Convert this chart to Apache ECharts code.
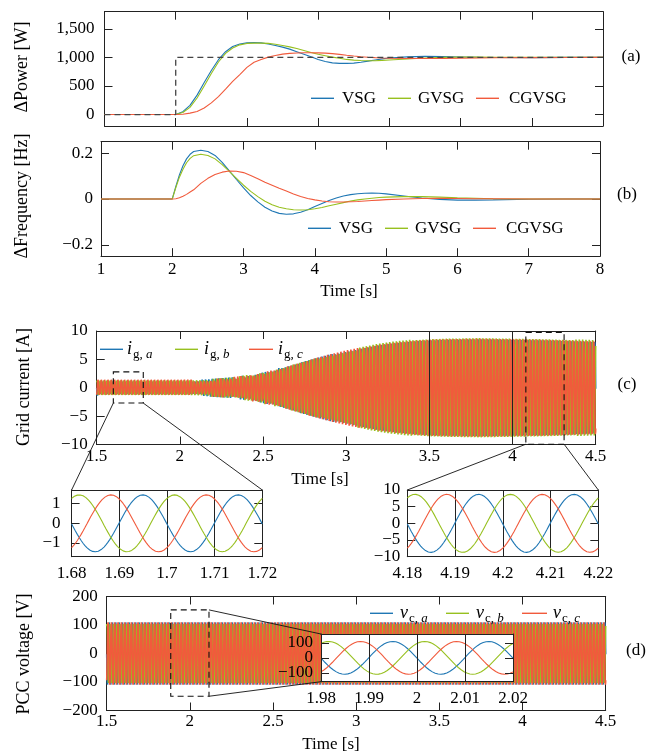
<!DOCTYPE html>
<html><head><meta charset="utf-8">
<script src="https://cdn.jsdelivr.net/npm/echarts@6/dist/echarts.min.js"></script>
<style>html,body{margin:0;padding:0;background:#fff}#c{width:655px;height:754px}</style>
</head><body><div id="c"></div>
<script>
// ===== values =====
// (a) power step response
const powerTime  = [1, 2, 2.1, 2.2, 2.3, 2.4, 2.5, 2.6, 2.7, 2.8, 2.9, 3.0, 3.1, 3.2, 3.3, 3.4, 3.5, 3.6, 3.7, 3.8, 3.9, 4.0, 4.1, 4.2, 4.3, 4.4, 4.5, 4.6, 4.7, 4.8, 4.9, 5.0, 5.25, 5.5, 5.75, 6.0, 6.25, 6.5, 7.0, 7.5, 8.0];
const powerVSG   = [0, 0, 50, 160, 340, 560, 770, 960, 1100, 1190, 1235, 1255, 1260, 1255, 1235, 1210, 1180, 1145, 1100, 1055, 1010, 965, 930, 905, 895, 895, 900, 915, 935, 955, 975, 990, 1010, 1018, 1015, 1008, 1002, 998, 997, 1000, 1000];
const powerGVSG  = [0, 0, 35, 125, 290, 500, 720, 920, 1070, 1165, 1220, 1245, 1250, 1250, 1245, 1230, 1210, 1185, 1155, 1120, 1085, 1055, 1030, 1005, 985, 965, 952, 945, 942, 943, 948, 955, 972, 990, 1000, 1005, 1005, 1003, 1000, 1000, 1000];
const powerCGVSG = [0, 0, 5, 25, 55, 115, 205, 315, 445, 580, 700, 825, 915, 965, 1005, 1035, 1058, 1070, 1078, 1082, 1082, 1080, 1075, 1066, 1054, 1038, 1025, 1013, 1003, 996, 990, 986, 981, 980, 982, 986, 990, 993, 997, 999, 1000];
const powerRefTime = [1, 2, 2, 8];
const powerRef     = [0, 0, 1000, 1000];
// (b) frequency deviation
const freqTime   = [1, 2, 2.05, 2.1, 2.15, 2.2, 2.25, 2.3, 2.4, 2.5, 2.6, 2.7, 2.8, 2.9, 3.0, 3.1, 3.2, 3.3, 3.4, 3.5, 3.6, 3.7, 3.8, 3.9, 4.0, 4.1, 4.2, 4.3, 4.4, 4.5, 4.6, 4.7, 4.8, 4.9, 5.0, 5.25, 5.5, 5.75, 6.0, 6.25, 6.5, 7.0, 7.5, 8.0];
const freqVSG    = [0, 0, 0.055, 0.105, 0.145, 0.175, 0.195, 0.207, 0.213, 0.207, 0.19, 0.16, 0.123, 0.085, 0.048, 0.015, -0.013, -0.036, -0.053, -0.063, -0.067, -0.065, -0.058, -0.047, -0.033, -0.02, -0.007, 0.004, 0.013, 0.019, 0.023, 0.025, 0.026, 0.025, 0.022, 0.013, 0.004, -0.002, -0.005, -0.005, -0.004, -0.001, 0, 0];
const freqGVSG   = [0, 0, 0.05, 0.095, 0.13, 0.158, 0.177, 0.189, 0.195, 0.19, 0.175, 0.15, 0.12, 0.09, 0.06, 0.033, 0.01, -0.01, -0.025, -0.036, -0.043, -0.047, -0.048, -0.047, -0.043, -0.037, -0.03, -0.023, -0.016, -0.009, -0.004, 0.0, 0.003, 0.006, 0.008, 0.01, 0.01, 0.008, 0.005, 0.003, 0.001, 0, 0, 0];
const freqCGVSG  = [0, 0, 0.001, 0.005, 0.012, 0.02, 0.03, 0.04, 0.068, 0.09, 0.107, 0.117, 0.122, 0.121, 0.115, 0.102, 0.088, 0.073, 0.06, 0.047, 0.035, 0.022, 0.011, 0.002, -0.004, -0.009, -0.012, -0.013, -0.013, -0.012, -0.011, -0.009, -0.007, -0.005, -0.003, 0, 0.002, 0.003, 0.002, 0.001, 0.001, 0, 0, 0];
// (c) grid current: envelope (peak amplitude) read at these times
const currentEnvTime = [1.5, 2.0, 2.15, 2.3, 2.4, 2.5, 2.6, 2.7, 2.8, 2.9, 3.0, 3.1, 3.2, 3.3, 3.4, 3.5, 3.6, 3.8, 4.0, 4.2, 4.4, 4.5];
const currentEnvAmp  = [1.45, 1.45, 1.5, 1.8, 2.2, 2.8, 3.5, 4.3, 5.1, 5.9, 6.6, 7.2, 7.8, 8.2, 8.5, 8.7, 8.8, 8.9, 8.8, 8.7, 8.5, 8.4];
// (d) PCC voltage envelope
const voltageEnvTime = [1.5, 4.5];
const voltageEnvAmp  = [110, 110];
// three-phase waveform parameters
const gridFreq   = 50;        // Hz
const phaseBPeak = 1.6816;    // a peak of phase b (s)
const phaseLag   = {a: 2 / 3, b: 0, c: 1 / 3}; // lag in periods
// tick labels
const powerTicks   = [0, 500, 1000, 1500];
const freqTicks    = [-0.2, 0, 0.2];
const curInsTicks  = [-1, 0, 1];
const curInsTicksR = [-10, -5, 0, 5, 10];
const voltInsTicks = [-100, 0, 100];
const currentGridLinesAt = [3.5, 4];
// zoom boxes (data coordinates)
const zoomBoxC1 = {x: [1.6, 1.78], y: [-2.7, 2.8]};
const zoomBoxC2 = {x: [4.08, 4.31], y: [-9.95, 9.75]};
const zoomBoxD  = {x: [1.885, 2.115], y: [-150, 153]};

// ===== styling =====
const FONT = '"Liberation Serif", "Times New Roman", serif';
const BLUE = '#1f77b4', GREEN = '#97c01f', RED = '#f15a3c', AX = '#222';

function zip(t, v) { return t.map((x, i) => [x, v[i]]); }
function interp(xs, ys, x) {
  if (x <= xs[0]) return ys[0];
  for (let i = 1; i < xs.length; i++) if (x <= xs[i]) {
    const f = (x - xs[i - 1]) / (xs[i] - xs[i - 1]); return ys[i - 1] + f * (ys[i] - ys[i - 1]);
  }
  return ys[ys.length - 1];
}
function phase(t0, t1, step, envT, envA, lag) {
  const out = [], n = Math.round((t1 - t0) / step), T = 1 / gridFreq;
  for (let k = 0; k <= n; k++) {
    const t = t0 + k * step;
    out.push([t, interp(envT, envA, t) * Math.cos(2 * Math.PI * gridFreq * (t - phaseBPeak - lag * T))]);
  }
  return out;
}
const minus = s => String(s).replace('-', '\u2212');

function xPair(g, o) {
  const mk = (pos) => {
    const a = {type: 'value', gridIndex: g, position: pos, min: o.min, max: o.max, z: o.z || 0,
      axisLine: {show: true, onZero: false, lineStyle: {color: AX, width: 1}},
      axisTick: {show: true, inside: true, length: 8, lineStyle: {color: AX, width: 1}},
      axisLabel: {show: pos === 'bottom' && !!o.labels, margin: o.margin || 6, color: '#000', fontFamily: FONT, fontSize: 17,
        formatter: o.fmt, showMinLabel: true, showMaxLabel: true, interval: 0, hideOverlap: false},
      splitLine: {show: pos === 'bottom' && !!o.grid, lineStyle: {color: AX, width: 1}},
      axisPointer: {show: false}};
    if (o.interval != null) a.interval = o.interval;
    if (o.custom) { a.axisTick.customValues = o.custom; a.axisLabel.customValues = o.custom; }
    return a;
  };
  return [mk('bottom'), mk('top')];
}
function yPair(g, o) {
  const mk = (pos) => {
    const a = {type: 'value', gridIndex: g, position: pos, min: o.min, max: o.max, z: o.z || 0,
      axisLine: {show: true, onZero: false, lineStyle: {color: AX, width: 1}},
      axisTick: {show: true, inside: true, length: 8, lineStyle: {color: AX, width: 1}},
      axisLabel: {show: pos === 'left' && !o.manual, margin: o.margin || 9, color: '#000', fontFamily: FONT, fontSize: 17,
        formatter: o.fmt, showMinLabel: true, showMaxLabel: true, interval: 0, hideOverlap: false},
      splitLine: {show: false}, axisPointer: {show: false}};
    if (o.interval != null) a.interval = o.interval;
    if (o.custom) { a.axisTick.customValues = o.custom; a.axisLabel.customValues = o.custom; }
    return a;
  };
  return [mk('left'), mk('right')];
}
const fmt2 = v => String(+(+v).toFixed(2));

const grids = [
  {left: 104.5, top: 11.7, width: 498.5, height: 114.3},   // a
  {left: 101, top: 141.7, width: 499, height: 114.5},      // b
  {left: 96.7, top: 331, width: 499, height: 113.5},       // c
  {left: 71.6, top: 490, width: 190.7, height: 66.7},      // c inset left
  {left: 407.3, top: 490, width: 191, height: 66.7},       // c inset right
  {left: 106.7, top: 596.5, width: 499, height: 114},      // d
  {left: 321, top: 634, width: 192, height: 47.7, show: true, backgroundColor: '#fff', borderWidth: 0, z: 10} // d inset
];

const xAxes = [].concat(
  xPair(0, {min: 1, max: 8, interval: 1}),
  xPair(1, {min: 1, max: 8, interval: 1, labels: true, margin: 5}),
  xPair(2, {min: 1.5, max: 4.5, interval: 0.5, labels: true, margin: 4}),
  xPair(3, {min: 1.68, max: 1.72, interval: 0.01, labels: true, grid: true, margin: 8, fmt: fmt2}),
  xPair(4, {min: 4.18, max: 4.22, interval: 0.01, labels: true, grid: true, margin: 8, fmt: fmt2}),
  xPair(5, {min: 1.5, max: 4.5, interval: 0.5, labels: true, margin: 3}),
  xPair(6, {min: 1.98, max: 2.02, interval: 0.01, labels: true, grid: true, margin: 8, fmt: fmt2, z: 12})
);
const yAxes = [].concat(
  yPair(0, {min: -200, max: 1800, custom: powerTicks, margin: 10, fmt: v => Number(v).toLocaleString('en-US')}),
  yPair(1, {min: -0.25, max: 0.25, custom: freqTicks, margin: 8, fmt: minus}),
  yPair(2, {min: -10, max: 10, interval: 5, margin: 9, fmt: minus}),
  yPair(3, {min: -1.7, max: 1.7, custom: curInsTicks, margin: 11, fmt: minus}),
  yPair(4, {min: -10, max: 10, custom: curInsTicksR, manual: true}),
  yPair(5, {min: -200, max: 200, interval: 100, margin: 9, fmt: minus}),
  yPair(6, {min: -160, max: 160, custom: voltInsTicks, manual: true, z: 12})
);

function line(g, data, color, extra) {
  return Object.assign({type: 'line', xAxisIndex: 2 * g, yAxisIndex: 2 * g, data: data, showSymbol: false, symbol: 'none',
    silent: true, animation: false, lineStyle: {color: color, width: 1.1}, itemStyle: {color: color}}, extra || {});
}

const series = [];
// (a)
series.push(line(0, zip(powerTime, powerVSG), BLUE));
series.push(line(0, zip(powerTime, powerGVSG), GREEN));
series.push(line(0, zip(powerTime, powerCGVSG), RED));
series.push(line(0, zip(powerRefTime, powerRef), '#444', {lineStyle: {color: '#444', width: 1.3, type: [6, 4]}, z: 4}));
// (b)
series.push(line(1, zip(freqTime, freqVSG), BLUE));
series.push(line(1, zip(freqTime, freqGVSG), GREEN));
series.push(line(1, zip(freqTime, freqCGVSG), RED));
// (c) main + insets
const ph = [['a', BLUE], ['b', GREEN], ['c', RED]];
ph.forEach(([p, col]) => series.push(line(2, phase(1.5, 4.5, 0.0005, currentEnvTime, currentEnvAmp, phaseLag[p]), col, {lineStyle: {color: col, width: 1.6}})));
series.push(line(2, [[3.5, 0]], AX, {lineStyle: {width: 0}, z: 3,
  markLine: {silent: true, symbol: 'none', label: {show: false}, animation: false,
    lineStyle: {color: AX, width: 1, type: 'solid'}, data: currentGridLinesAt.map(v => ({xAxis: v}))}}));
ph.forEach(([p, col]) => series.push(line(3, phase(1.68, 1.72, 0.0002, currentEnvTime, currentEnvAmp, phaseLag[p]), col)));
ph.forEach(([p, col]) => series.push(line(4, phase(4.18, 4.22, 0.0002, currentEnvTime, currentEnvAmp, phaseLag[p]), col)));
// (d) main + inset
ph.forEach(([p, col]) => series.push(line(5, phase(1.5, 4.5, 0.0005, voltageEnvTime, voltageEnvAmp, phaseLag[p]), col, {lineStyle: {color: col, width: 1.6}})));
ph.forEach(([p, col]) => series.push(line(6, phase(1.98, 2.02, 0.0002, voltageEnvTime, voltageEnvAmp, phaseLag[p]), col, {z: 11})));

const chart = echarts.init(document.getElementById('c'), null, {renderer: 'canvas'});
chart.setOption({animation: false, backgroundColor: '#fff', grid: grids, xAxis: xAxes, yAxis: yAxes, series: series});

// ===== annotations, legends and texts =====
const G = [];
const P = (g, pt) => chart.convertToPixel({xAxisIndex: 2 * g, yAxisIndex: 2 * g}, pt);
function dashedBox(g, box) {
  const a = P(g, [box.x[0], box.y[1]]), b = P(g, [box.x[1], box.y[0]]);
  G.push({type: 'rect', shape: {x: a[0], y: a[1], width: b[0] - a[0], height: b[1] - a[1]}, z: 50,
    style: {fill: null, stroke: '#111', lineWidth: 1.1, lineDash: [6, 4]}});
  return {tl: a, br: b, tr: [b[0], a[1]], bl: [a[0], b[1]]};
}
function seg(p, q) { G.push({type: 'line', shape: {x1: p[0], y1: p[1], x2: q[0], y2: q[1]}, z: 50, style: {stroke: '#111', lineWidth: 0.9}}); }
const b1 = dashedBox(2, zoomBoxC1), b2 = dashedBox(2, zoomBoxC2), b3 = dashedBox(5, zoomBoxD);
seg(b1.bl, P(3, [1.68, 1.7])); seg(b1.br, P(3, [1.72, 1.7]));
seg(b2.bl, P(4, [4.18, 10])); seg(b2.br, P(4, [4.22, 10]));
seg(b3.tr, P(6, [1.98, 160])); seg(b3.br, P(6, [1.98, -160]));

function txt(x, y, s, o) {
  G.push(Object.assign({type: 'text', x: x, y: y, z: 60, style: Object.assign({text: s, fill: '#000', font: '17px ' + FONT,
    textAlign: 'center', textVerticalAlign: 'middle', align: 'center', verticalAlign: 'middle'}, (o && o.style) || {})}, (o && o.el) || {}));
}
function rightTxt(x, y, s) { txt(x, y, s, {style: {textAlign: 'right', align: 'right'}}); }
// inset y labels placed at their tick values
curInsTicksR.forEach(v => { const p = P(4, [4.18, v]); rightTxt(p[0] - 7, p[1], minus(v)); });
voltInsTicks.forEach(v => { const p = P(6, [1.98, v]); rightTxt(p[0] - 8, p[1], minus(v)); });

function legLine(x1, x2, y, col) { G.push({type: 'line', shape: {x1: x1, y1: y, x2: x2, y2: y}, z: 60, style: {stroke: col, lineWidth: 1.4}}); }
function leftTxt(x, y, s, font) { txt(x, y, s, {style: {textAlign: 'left', align: 'left', font: font || ('17px ' + FONT)}}); }
// legends (a), (b)
[[98.3, 0], [228.3, -3]].forEach(([y, dx]) => {
  legLine(311 + dx, 334 + dx, y, BLUE); leftTxt(342 + dx, y, 'VSG');
  legLine(388 + dx, 411 + dx, y, GREEN); leftTxt(418 + dx, y, 'GVSG');
  legLine(476 + dx, 499 + dx, y, RED); leftTxt(509 + dx, y, 'CGVSG');
});
// math legend entries
function mathLeg(x, y, main, sub1, sub2) {
  G.push({type: 'text', x: x, y: y, z: 60, style: {text: main, fill: '#000', font: 'italic 18px ' + FONT, textAlign: 'left', align: 'left', textVerticalAlign: 'middle', verticalAlign: 'middle'}});
  const w = main === 'i' ? 6 : 9;
  G.push({type: 'text', x: x + w, y: y + 5, z: 60, style: {text: '{r|' + sub1 + ', }{it|' + sub2 + '}', fill: '#000',
    textAlign: 'left', align: 'left', textVerticalAlign: 'middle', verticalAlign: 'middle',
    rich: {r: {fontSize: 13, fontFamily: FONT, fill: '#000'}, it: {fontSize: 13, fontFamily: FONT, fontStyle: 'italic', fill: '#000'}}}});
}
legLine(100, 123, 349.3, BLUE); mathLeg(127, 349.3, 'i', 'g', 'a');
legLine(175, 198, 349.3, GREEN); mathLeg(204, 349.3, 'i', 'g', 'b');
legLine(249, 273, 349.3, RED); mathLeg(278, 349.3, 'i', 'g', 'c');
legLine(370, 393, 613.3, BLUE); mathLeg(400, 613.3, 'v', 'c', 'a');
legLine(446, 469, 613.3, GREEN); mathLeg(476, 613.3, 'v', 'c', 'b');
legLine(522, 547, 613.3, RED); mathLeg(553, 613.3, 'v', 'c', 'c');
// axis titles
function vtxt(x, y, s) { txt(x, y, s, {el: {rotation: Math.PI / 2}, style: {font: '18px ' + FONT}}); }
vtxt(22, 67, '\u0394Power [W]');
vtxt(22, 196, '\u0394Frequency [Hz]');
vtxt(24, 387, 'Grid current [A]');
vtxt(24, 654, 'PCC voltage [V]');
txt(349, 292, 'Time [s]'); txt(320, 480, 'Time [s]'); txt(331, 745, 'Time [s]');
txt(631, 57, '(a)'); txt(627, 195, '(b)'); txt(627, 385, '(c)'); txt(636, 651, '(d)');

chart.setOption({graphic: G});
</script></body></html>
